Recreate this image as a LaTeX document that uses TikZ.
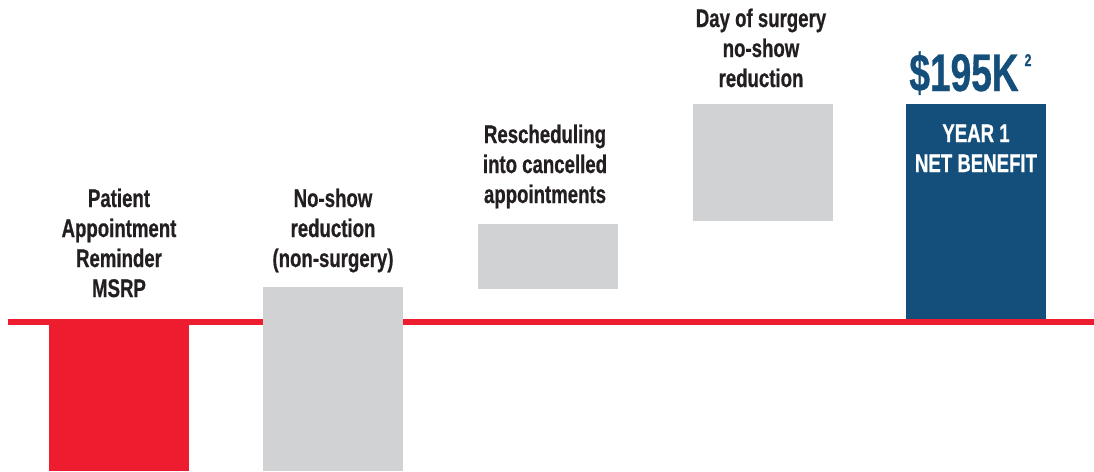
\documentclass[tikz,border=0pt]{standalone}
\usepackage{fontspec}
\newfontfamily\labfont{Liberation Sans Bold}[FakeStretch=0.73,FakeBold=0.6]
\newfontfamily\bigfont{Liberation Sans Bold}[FakeStretch=0.70,FakeBold=0.6]
\definecolor{lineRed}{HTML}{ED1C2E}
\definecolor{barGray}{HTML}{D1D2D4}
\definecolor{barBlue}{HTML}{134F7A}
\definecolor{txtDark}{HTML}{231F20}
\tikzset{
  bar/.style={anchor=north west, inner sep=0pt, outer sep=0pt},
  lab/.style={anchor=base, inner sep=0pt, align=center, text=txtDark,
    font=\labfont\fontsize{25.5}{30}\selectfont},
  wlab/.style={lab, text=white},
}
\begin{document}
\begin{tikzpicture}[x=1pt,y=-1pt]
\useasboundingbox (0,0) rectangle (1094,471);
% baseline
\coordinate (L0) at (8,322);
\coordinate (L1) at (1094,322);
\draw[lineRed, line width=6pt] (L0) -- (L1);
% bars
\node[bar, fill=lineRed, minimum width=140pt, minimum height=152pt] (b1) at (49,319) {};
\node[bar, fill=barGray, minimum width=140pt, minimum height=184pt] (b2) at (263,287) {};
\node[bar, fill=barGray, minimum width=140pt, minimum height=65pt] (b3) at (478,224) {};
\node[bar, fill=barGray, minimum width=140pt, minimum height=117pt] (b4) at (693,104) {};
\node[bar, fill=barBlue, minimum width=140pt, minimum height=215pt] (b5) at (906,104) {};
% labels (anchor base = baseline of last line)
\node[lab] (t1) at (119,297) {Patient\\Appointment\\Reminder\\MSRP};
\node[lab] (t2) at (333,267) {No-show\\reduction\\(non-surgery)};
\node[lab] (t3) at (545,203) {Rescheduling\\into cancelled\\appointments};
\node[lab] (t4) at (761,87) {Day of surgery\\no-show\\reduction};
\node[wlab] (t5) at (976,172) {YEAR 1\\NET BENEFIT};
\node[anchor=base, inner sep=0pt, text=barBlue, font=\bigfont\fontsize{53}{60}\selectfont] (v5) at (964,91) {\$195K};
\node[anchor=base, inner sep=0pt, text=barBlue, font=\labfont\fontsize{17}{18}\selectfont] (s5) at (1028,66) {2};
\end{tikzpicture}
\end{document}
